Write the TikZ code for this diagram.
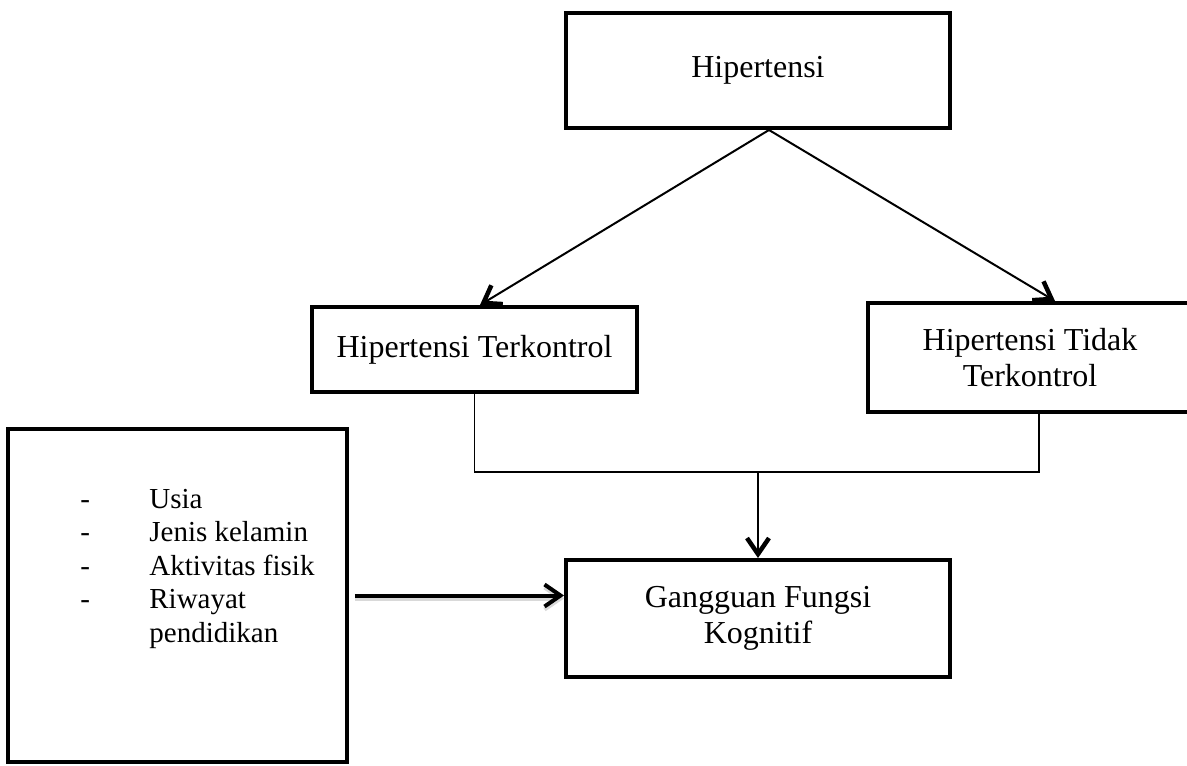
\documentclass[tikz,border=0pt]{standalone}
\usepackage{fontspec}
\setmainfont{Liberation Serif}
\usetikzlibrary{arrows.meta}
\tikzset{
  kotak/.style={draw, line width=0.08cm, rectangle, align=center, inner sep=0pt,
    font=\fontsize{18.2}{20.2}\selectfont},
  daftar/.style={inner sep=0pt, anchor=north west, font=\fontsize{16.5}{19.05}\selectfont},
  garis/.style={line width=0.026cm},
  panah/.style={line width=0.04cm, -{Straight Barb[length=0.32cm,width=0.44cm,line width=0.09cm]}},
  panahtebal/.style={line width=0.08cm, -{Straight Barb[length=0.32cm,width=0.44cm]}},
}
\begin{document}
\begin{tikzpicture}[x=0.02cm,y=-0.02cm]
      \clip (0,0) rectangle (1187,765);
      \node[kotak, minimum width=7.68cm, minimum height=2.3cm] (hip) at (758,70.5) {Hipertensi};
      \node[kotak, minimum width=6.5cm, minimum height=1.7cm] (terkontrol) at (474.5,349.5) {Hipertensi Terkontrol};
      \node[kotak, minimum width=6.48cm, minimum height=2.18cm] (tidak) at (1030,357.5) {Hipertensi Tidak\\Terkontrol};
      \node[kotak, minimum width=7.68cm, minimum height=2.34cm] (gangguan) at (758,618.5) {Gangguan Fungsi\\Kognitif};
      \node[kotak, minimum width=6.78cm, minimum height=6.66cm] (faktor) at (177.5,595.5) {};
      \node[daftar] (isi) at (80,484.5) {\begin{tabular}{@{}p{0.96cm}l@{}}
        -&Usia\\ -&Jenis kelamin\\ -&Aktivitas fisik\\ -&Riwayat\\ &pendidikan
      \end{tabular}};
      \begin{scope}
        \draw[panah] ([xshift=0.22cm]hip.south) to ([xshift=0.11cm]terkontrol.north);
        \draw[panah] ([xshift=0.22cm]hip.south) to ([xshift=0.5cm]tidak.north);
        \draw[garis] (terkontrol.south) -- ++(0,78) coordinate (belok) -| ([xshift=0.18cm]tidak.south);
        \draw[panah] (belok -| gangguan.north) -- (gangguan.north);
        \draw[panahtebal, draw=gray!30, transform canvas={yshift=-0.06cm}] ([xshift=0.12cm]faktor.east) -- (faktor.east -| gangguan.west);
        \draw[panahtebal] ([xshift=0.12cm]faktor.east) -- (faktor.east -| gangguan.west);
      \end{scope}
    \end{tikzpicture}
\end{document}
